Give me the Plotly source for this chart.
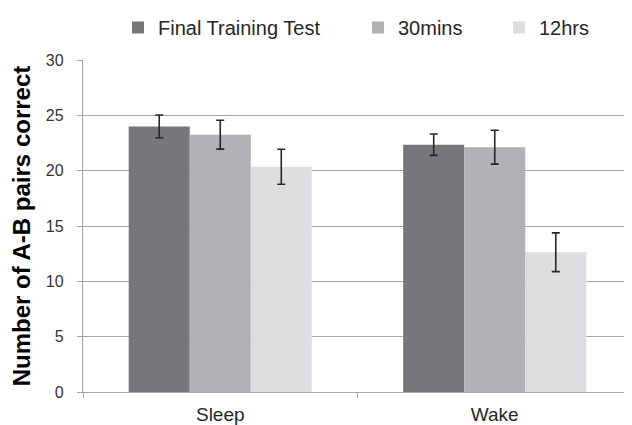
import plotly.graph_objects as go

categories = ["Sleep", "Wake"]
series_names = ["Final Training Test", "30mins", "12hrs"]
ftt_values = [24.0, 22.35]
ftt_err = [1.03, 0.97]
m30_values = [23.25, 22.12]
m30_err = [1.3, 1.53]
h12_values = [20.35, 12.63]
h12_err = [1.58, 1.75]
colors = ["#77777b", "#b1b2b6", "#dcdddf"]
y_ticks = [0, 5, 10, 15, 20, 25, 30]

legend_names = ["legend", "legend2", "legend3"]
legend_x = [110 / 624, 350 / 624, 491 / 624]

fig = go.Figure()
for name, vals, errs, col, lg in zip(series_names, [ftt_values, m30_values, h12_values],
                                     [ftt_err, m30_err, h12_err], colors, legend_names):
    fig.add_trace(go.Bar(
        x=categories, y=vals, name=name, legend=lg,
        marker=dict(color=col, line=dict(width=0)),
        error_y=dict(type="data", array=errs, visible=True, color="#262626",
                     thickness=1.6, width=4),
    ))

legend_common = dict(orientation="h", xanchor="left", y=1.0, yanchor="top",
                     xref="container", yref="container",
                     font=dict(size=20, color="#262626"), itemclick=False,
                     bgcolor="rgba(0,0,0,0)")

fig.update_layout(
    width=624, height=417,
    margin=dict(l=75, r=0, t=52, b=33),
    paper_bgcolor="white", plot_bgcolor="white",
    barmode="group", bargap=0.333, bargroupgap=0,
    font=dict(family="Liberation Sans, Arial, sans-serif", color="#262626"),
    showlegend=True,
    legend=dict(x=legend_x[0], **legend_common),
    legend2=dict(x=legend_x[1], **legend_common),
    legend3=dict(x=legend_x[2], **legend_common),
    xaxis=dict(showline=True, linecolor="#a6a6a6", linewidth=1.3,
               ticks="outside", tickson="boundaries", ticklen=5, tickcolor="#a6a6a6",
               ticklabelstandoff=5,
               tickfont=dict(size=19, color="#262626"), showgrid=False),
    yaxis=dict(range=[0, 30], tickvals=y_ticks, showline=True, linecolor="#a6a6a6",
               linewidth=1.3, ticks="outside", ticklen=5, tickcolor="#a6a6a6",
               ticklabelstandoff=10,
               showgrid=True, gridcolor="#a6a6a6", gridwidth=1.3, zeroline=False,
               tickfont=dict(size=16, color="#333333"),
               title=dict(text="<b>Number of A-B pairs correct</b>",
                          font=dict(size=24, color="#000000"), standoff=12)),
)

fig.write_html("out.html")
